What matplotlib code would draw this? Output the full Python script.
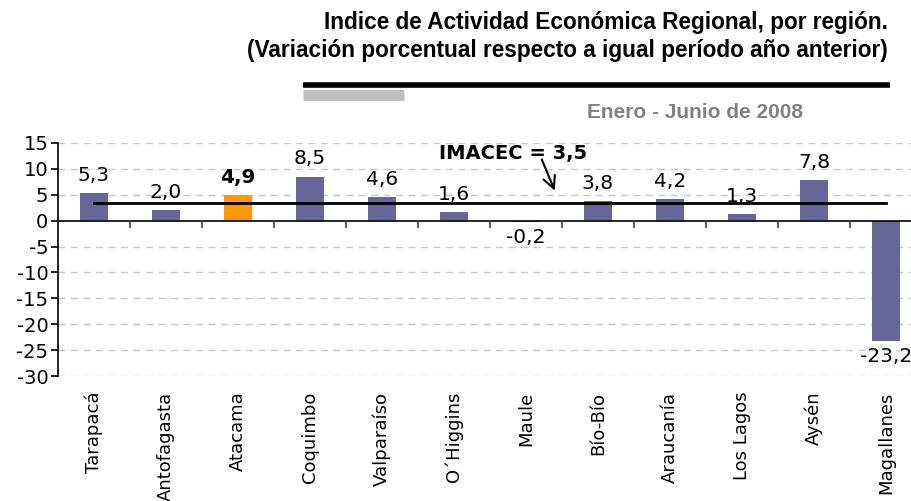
import matplotlib.pyplot as plt
from matplotlib.lines import Line2D
from matplotlib.font_manager import fontManager

regiones = ['Tarapacá', 'Antofagasta', 'Atacama', 'Coquimbo', 'Valparaíso',
            'O´Higgins', 'Maule', 'Bío-Bío', 'Araucanía', 'Los Lagos',
            'Aysén', 'Magallanes']
variacion = [5.3, 2.0, 4.9, 8.5, 4.6, 1.6, -0.2, 3.8, 4.2, 1.3, 7.8, -23.2]
imacec = 3.5
destacada = 'Atacama'

names = {f.name for f in fontManager.ttflist}
narrow = 'Liberation Sans Narrow' if 'Liberation Sans Narrow' in names else 'Liberation Sans'

fig = plt.figure(figsize=(9.12, 5.01), dpi=100)
# axes extends a bit past the right edge, like the original
ax = fig.add_axes([58 / 912, 1 - 376 / 501, 864 / 912, 233 / 501])

x = list(range(len(regiones)))
colores = ['#FF9900' if r == destacada else '#666699' for r in regiones]
ax.bar(x, variacion, width=0.4, color=colores, zorder=3)

ax.set_xlim(-0.5, len(regiones) - 0.5)
ax.set_ylim(-30, 15)
ax.set_yticks(range(-30, 16, 5))
ax.set_yticklabels([str(v) for v in range(-30, 16, 5)], fontsize=14)
for y in range(-30, 16, 5):
    if y != 0:
        ax.axhline(y, color='#c8c8c8', lw=1, ls=(0, (5, 4)), zorder=1)

for s in ['top', 'right', 'bottom']:
    ax.spines[s].set_visible(False)
ax.spines['left'].set_linewidth(1.2)
ax.axhline(0, color='black', lw=1.2, zorder=4)
ax.tick_params(axis='y', length=5, width=1.2, pad=2)
ax.set_xticks([])
# category boundary ticks hanging from the zero line
for b in range(1, len(regiones)):
    ax.plot([b - 0.5, b - 0.5], [0, -1.2], color='#404040', lw=1.2, zorder=4,
            clip_on=False)

for i, (r, v) in enumerate(zip(regiones, variacion)):
    txt = f'{v:.1f}'.replace('.', ',')
    bold = 'bold' if r == destacada else 'normal'
    if v >= 0:
        ax.text(i, v + 1.6, txt, ha='center', va='bottom', fontsize=14.5,
                fontweight=bold, zorder=5)
    else:
        ax.text(i, v - 1.2, txt, ha='center', va='top', fontsize=14.5,
                fontweight=bold, zorder=5)
    ax.text(i, -33.0, r, rotation=90, ha='center', va='top', fontsize=13)

ax.plot([0, len(regiones) - 1], [imacec, imacec], color='black', lw=2, zorder=6)
ax.text(5.82, 12.9, 'IMACEC = ' + f'{imacec:.1f}'.replace('.', ','),
        ha='center', va='center', fontsize=14, fontweight='bold', zorder=7)
ax.annotate('', xy=(6.4, 5.8), xytext=(6.22, 11.8), zorder=8,
            arrowprops=dict(arrowstyle='->', color='black', lw=1.5,
                            shrinkA=0, shrinkB=0, mutation_scale=22))

fig.text(888 / 912, 1 - 22 / 501, 'Indice de Actividad Económica Regional, por región.',
         ha='right', va='center', fontsize=16.3, fontweight='bold', family=narrow)
fig.text(888 / 912, 1 - 51 / 501, '(Variación porcentual respecto a igual período año anterior)',
         ha='right', va='center', fontsize=16.3, fontweight='bold', family=narrow)
fig.add_artist(Line2D([303 / 912, 890 / 912], [1 - 85 / 501] * 2, color='black', lw=4,
                      solid_capstyle='butt'))
fig.add_artist(Line2D([303 / 912, 404 / 912], [1 - 95 / 501] * 2, color='#c0c0c0', lw=8,
                      solid_capstyle='butt'))
fig.text(803 / 912, 1 - 113 / 501, 'Enero - Junio de 2008', ha='right', va='center',
         fontsize=15, fontweight='bold', color='#808080', family=narrow)

fig.savefig('out.png', dpi=100)
